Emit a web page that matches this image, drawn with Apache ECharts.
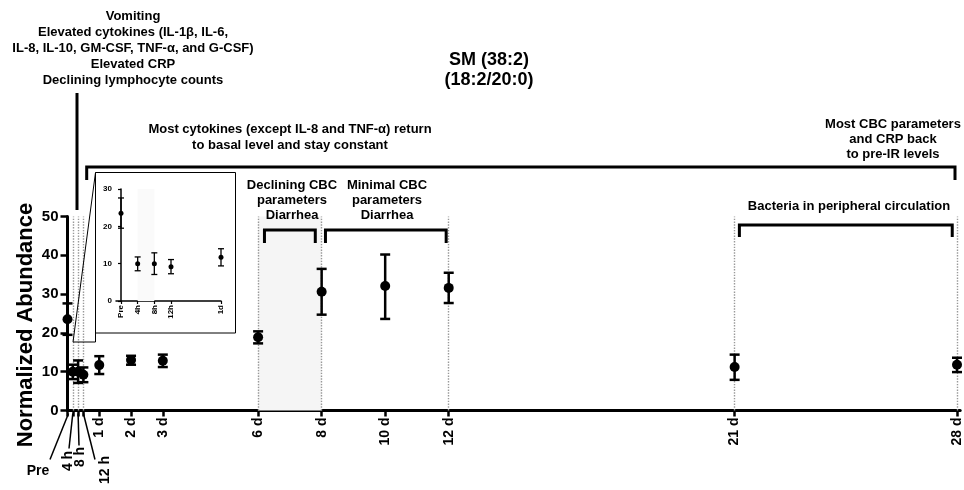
<!DOCTYPE html>
<html><head><meta charset="utf-8">
<script src="https://cdn.jsdelivr.net/npm/echarts@6/dist/echarts.min.js"></script>
<style>html,body{margin:0;padding:0;background:#fff}#c{width:964px;height:490px}</style>
</head><body><div id="c"></div>
<script>
// ---- data ----
const timeLabels = ['Pre', '4 h', '8 h', '12 h', '1 d', '2 d', '3 d', '6 d', '8 d', '10 d', '12 d', '21 d', '28 d'];
const days  = [0, 1/6, 1/3, 0.5, 1, 2, 3, 6, 8, 10, 12, 21, 28];
const means = [23.5, 10.0, 10.0, 9.2, 11.7, 13.0, 12.8, 18.9, 30.6, 32.1, 31.6, 11.2, 11.8];
const lows  = [19.5, 8.1, 7.1, 7.3, 9.4, 11.8, 11.2, 17.3, 24.7, 23.6, 27.7, 7.9, 9.9];
const highs = [27.6, 11.8, 12.9, 11.1, 14.0, 14.1, 14.4, 20.4, 36.5, 40.2, 35.5, 14.4, 13.6];
const insetLabels = ['Pre', '4h', '8h', '12h', '1d'];
const insetCount = 5;
const dottedDays = [1/6, 1/3, 0.5, 6, 8, 12, 21, 28];
const shadeMain = [6, 8];
const shadeInset = [1/6, 1/3];
const yMax = 50, yStep = 10, insetYMax = 30;

const FONT = 'Liberation Sans, Arial, sans-serif';
const chart = echarts.init(document.getElementById('c'));
const pts = days.map((d, i) => [d, means[i], lows[i], highs[i]]);
const insetPts = pts.slice(0, insetCount);
const labelOf = (v, arr, n) => { for (let i = 0; i < n; i++) if (Math.abs(days[i] - v) < 1e-6) return arr[i]; return ''; };

function errRender(capHalf, lw) {
  return function (params, api) {
    const x = api.value(0);
    const top = api.coord([x, api.value(3)]);
    const bot = api.coord([x, api.value(2)]);
    const st = { stroke: '#000', lineWidth: lw };
    return { type: 'group', children: [
      { type: 'line', shape: { x1: top[0], y1: top[1], x2: bot[0], y2: bot[1] }, style: st },
      { type: 'line', shape: { x1: top[0] - capHalf, y1: top[1], x2: top[0] + capHalf, y2: top[1] }, style: st },
      { type: 'line', shape: { x1: bot[0] - capHalf, y1: bot[1], x2: bot[0] + capHalf, y2: bot[1] }, style: st }
    ]};
  };
}

const bold = (size) => ({ fontFamily: FONT, fontWeight: 'bold', fontSize: size, color: '#000' });

const option = {
  animation: false,
  backgroundColor: '#fff',
  grid: [
    { left: 67.5, right: 3, top: 216.5, bottom: 79.5 },
    { left: 116, top: 189, width: 105, height: 112 }
  ],
  xAxis: [
    { type: 'value', gridIndex: 0, min: 0, max: 28.1,
      axisLine: { show: true, onZero: false, lineStyle: { color: '#000', width: 3 } },
      axisTick: { show: true, customValues: days, length: 6, lineStyle: { color: '#000', width: 2.5 } },
      axisLabel: { customValues: days.slice(4), rotate: 90, margin: 7, formatter: v => labelOf(v, timeLabels, days.length), ...bold(14) },
      splitLine: { show: false } },
    { type: 'value', gridIndex: 1, min: -0.05, max: 1,
      axisLine: { show: true, onZero: false, lineStyle: { color: '#000', width: 1.5 } },
      axisTick: { show: true, customValues: days.slice(0, insetCount), length: 3, lineStyle: { color: '#000', width: 1.2 } },
      axisLabel: { customValues: days.slice(0, insetCount), rotate: 90, margin: 4, formatter: v => labelOf(v, insetLabels, insetCount), ...bold(8) },
      splitLine: { show: false } }
  ],
  yAxis: [
    { type: 'value', gridIndex: 0, min: 0, max: yMax, interval: yStep,
      axisLine: { show: true, lineStyle: { color: '#000', width: 3 } },
      axisTick: { show: true, length: 7, lineStyle: { color: '#000', width: 2.5 } },
      axisLabel: { margin: 9, ...bold(15) },
      splitLine: { show: false } },
    { type: 'value', gridIndex: 1, min: 0, max: insetYMax, interval: yStep,
      axisLine: { show: true, lineStyle: { color: '#000', width: 1.5 } },
      axisTick: { show: true, length: 3, lineStyle: { color: '#000', width: 1.2 } },
      axisLabel: { margin: 4, ...bold(8) },
      splitLine: { show: false } }
  ],
  series: [
    { type: 'custom', xAxisIndex: 0, yAxisIndex: 0, data: pts, renderItem: errRender(5, 2.5), z: 5,
      markArea: { silent: true, itemStyle: { color: '#f5f5f5' },
        data: [[{ coord: [shadeMain[0], 0] }, { coord: [shadeMain[1], yMax] }]] },
      markLine: { silent: true, symbol: 'none', label: { show: false },
        lineStyle: { color: '#999', type: 'dotted', width: 1.4 },
        data: dottedDays.map(d => [{ coord: [d, 0] }, { coord: [d, yMax] }]) } },
    { type: 'scatter', xAxisIndex: 0, yAxisIndex: 0, data: pts, symbolSize: 10, z: 6,
      itemStyle: { color: '#000', opacity: 1 }, encode: { x: 0, y: 1 } },
    { type: 'custom', xAxisIndex: 1, yAxisIndex: 1, data: insetPts, renderItem: errRender(3, 1.3), z: 5,
      markArea: { silent: true, itemStyle: { color: '#fafafa' },
        data: [[{ coord: [shadeInset[0], 0] }, { coord: [shadeInset[1], insetYMax] }]] } },
    { type: 'scatter', xAxisIndex: 1, yAxisIndex: 1, data: insetPts, symbolSize: 5, z: 6,
      itemStyle: { color: '#000', opacity: 1 }, encode: { x: 0, y: 1 } }
  ]
};
chart.setOption(option);

// ---- annotations ----
const P = (d, v) => chart.convertToPixel({ xAxisIndex: 0, yAxisIndex: 0 }, [d, v]);
const y0 = P(0, 0)[1];
const ln = (pts, w) => ({ type: 'polyline', shape: { points: pts }, style: { stroke: '#000', lineWidth: w, fill: null }, z: 10 });
const txt = (x, y, text, size, lh, extra) => ({ type: 'text', x, y, z: 10,
  style: Object.assign({ text, font: 'bold ' + size + 'px ' + FONT, fill: '#000', align: 'center', verticalAlign: 'top', lineHeight: lh }, extra || {}) });
const rtxt = (x, y, text, size) => ({ type: 'text', x, y, rotation: Math.PI / 2, z: 10,
  style: { text, font: 'bold ' + size + 'px ' + FONT, fill: '#000', align: 'center', verticalAlign: 'middle' } });

const xPre = P(days[0], 0)[0], x4 = P(days[1], 0)[0], x8 = P(days[2], 0)[0], x12 = P(days[3], 0)[0];
const xAt = d => P(d, 0)[0];

const graphic = [
  // y axis title
  rtxt(26, 325, 'Normalized Abundance', 22),
  // early time labels with leaders
  ln([[xPre + 1, y0 + 3], [50, y0 + 49]], 1.5),
  txt(38, 463, timeLabels[0], 14, 16),
  ln([[x4, y0 + 3], [69, y0 + 38]], 1.5),
  rtxt(68, 461, timeLabels[1], 14),
  ln([[x8, y0 + 3], [79, y0 + 35]], 1.5),
  rtxt(80, 457, timeLabels[2], 14),
  ln([[x12, y0 + 3], [95, y0 + 49]], 1.5),
  rtxt(105, 470, timeLabels[3], 14),
  // top-left block
  txt(133, 8.5, 'Vomiting\nElevated cytokines (IL-1β, IL-6,\nIL-8, IL-10, GM-CSF, TNF-α, and G-CSF)\nElevated CRP\nDeclining lymphocyte counts', 13, 16),
  ln([[77, 93], [77, 210]], 3),
  // title
  txt(489, 50, 'SM (38:2)\n(18:2/20:0)', 18, 20),
  // long bracket
  ln([[86.7, 180], [86.7, 167], [955, 167], [955, 180]], 3),
  txt(290, 121, 'Most cytokines (except IL-8 and TNF-α) return\nto basal level and stay constant', 13, 16),
  txt(893, 116.5, 'Most CBC parameters\nand CRP back\nto pre-IR levels', 13, 15),
  // Declining / Minimal
  txt(292, 177.5, 'Declining CBC\nparameters\nDiarrhea', 13, 15),
  ln([[xAt(6.2), 243], [xAt(6.2), 230], [xAt(7.8), 230], [xAt(7.8), 243]], 3),
  txt(387, 177.5, 'Minimal CBC\nparameters\nDiarrhea', 13, 15),
  ln([[xAt(8.12), 243], [xAt(8.12), 230], [xAt(11.92), 230], [xAt(11.92), 243]], 3),
  // bacteria
  txt(849, 198.5, 'Bacteria in peripheral circulation', 13, 15),
  ln([[xAt(21.15), 237], [xAt(21.15), 225], [xAt(27.85), 225], [xAt(27.85), 237]], 3),
  // inset frame + zoom callout
  { type: 'rect', shape: { x: 95.5, y: 172.5, width: 140, height: 160.5 }, style: { stroke: '#000', lineWidth: 1, fill: null }, z: 10 },
  ln([[95.5, 333], [95.5, 342], [73, 342], [95.5, 172.5]], 1)
];
chart.setOption({ graphic });
</script>
</body></html>
